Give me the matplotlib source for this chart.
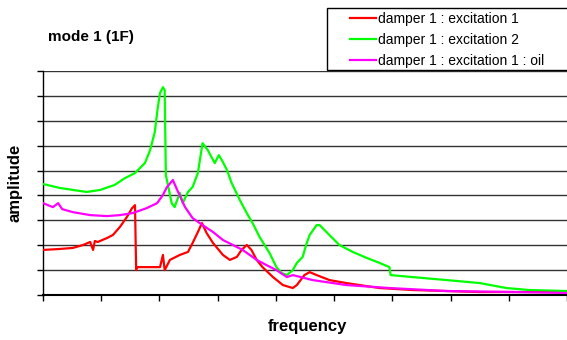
import matplotlib
matplotlib.use("Agg")
import matplotlib.pyplot as plt
from matplotlib.patches import Rectangle

plt.rcParams['font.family'] = ['Liberation Sans', 'DejaVu Sans']

# values (frequency / amplitude in grid units)
freq_exc1 = [0.00, 0.29, 0.51, 0.69, 0.81, 0.86, 0.89, 0.94, 1.10, 1.20, 1.32, 1.44,
             1.53, 1.58, 1.60, 1.61, 2.01, 2.06, 2.09, 2.18, 2.35, 2.49, 2.57, 2.66,
             2.73, 2.81, 2.92, 3.09, 3.21, 3.33, 3.41, 3.50, 3.58, 3.67, 3.77, 3.95,
             4.12, 4.29, 4.36, 4.49, 4.58, 4.70, 4.92, 5.21, 5.78, 6.35, 7.50, 8.99]
amp_exc1 = [1.81, 1.85, 1.89, 2.01, 2.13, 1.81, 2.17, 2.13, 2.29, 2.41, 2.73, 3.13,
            3.49, 3.61, 1.00, 1.12, 1.12, 1.61, 1.00, 1.41, 1.61, 1.73, 2.09, 2.53,
            2.89, 2.49, 2.09, 1.61, 1.41, 1.53, 1.81, 2.01, 1.81, 1.41, 1.12, 0.72,
            0.40, 0.28, 0.40, 0.80, 0.92, 0.80, 0.60, 0.48, 0.28, 0.20, 0.12, 0.12]

freq_exc2 = [0.00, 0.29, 0.75, 0.98, 1.23, 1.41, 1.58, 1.75, 1.84, 1.92, 1.97, 2.01,
             2.06, 2.09, 2.11, 2.21, 2.26, 2.35, 2.40, 2.49, 2.57, 2.66, 2.74, 2.83,
             2.95, 3.02, 3.09, 3.16, 3.24, 3.38, 3.50, 3.60, 3.72, 3.89, 4.01, 4.10,
             4.19, 4.29, 4.36, 4.46, 4.53, 4.58, 4.70, 4.75, 4.92, 5.09, 5.32, 5.56,
             5.78, 5.95, 5.97, 6.35, 6.93, 7.50, 7.96, 8.35, 8.99]
amp_exc2 = [4.46, 4.30, 4.14, 4.22, 4.42, 4.70, 4.90, 5.30, 5.82, 6.55, 7.51, 8.11,
            8.35, 8.23, 4.82, 3.69, 3.53, 4.10, 3.69, 4.14, 4.34, 4.90, 6.10, 5.82,
            5.30, 5.62, 5.34, 5.02, 4.50, 3.82, 3.29, 2.89, 2.33, 1.69, 1.12, 0.88,
            0.80, 1.00, 1.29, 1.53, 2.09, 2.41, 2.81, 2.81, 2.41, 2.01, 1.73, 1.49,
            1.29, 1.12, 0.80, 0.72, 0.60, 0.48, 0.28, 0.20, 0.16]

freq_oil = [0.00, 0.17, 0.26, 0.33, 0.51, 0.81, 1.10, 1.32, 1.54, 1.78, 1.96, 2.06,
            2.13, 2.23, 2.32, 2.44, 2.57, 2.74, 2.92, 3.09, 3.26, 3.43, 3.55, 3.67,
            3.84, 4.01, 4.19, 4.29, 4.63, 5.21, 5.95, 6.93, 8.06, 8.99]
amp_oil = [3.69, 3.53, 3.69, 3.45, 3.33, 3.21, 3.17, 3.21, 3.29, 3.49, 3.69, 4.02,
           4.34, 4.62, 4.14, 3.53, 3.09, 2.81, 2.53, 2.21, 2.01, 1.81, 1.61, 1.41,
           1.20, 1.00, 0.72, 0.80, 0.60, 0.40, 0.28, 0.16, 0.12, 0.08]

labels = ["damper 1 : excitation 1", "damper 1 : excitation 2",
          "damper 1 : excitation 1 : oil"]
colors = ["#ff0000", "#00ff00", "#ff00ff"]

fig = plt.figure(figsize=(5.67, 3.4), dpi=100)
ax = fig.add_axes([43 / 567, 1 - 295 / 340, 1 - 43 / 567, 224 / 340])

for y in range(1, 10):
    ax.axhline(y, color="#333333", lw=1.0, zorder=1)

lines = []
for fx, ay, c in zip([freq_exc1, freq_exc2, freq_oil],
                     [amp_exc1, amp_exc2, amp_oil], colors):
    ln, = ax.plot(fx, ay, color=c, lw=1.6, zorder=3)
    lines.append(ln)

ax.set_xlim(0, 9)
ax.set_ylim(0, 9)
ax.set_xticks(range(10))
ax.set_yticks(range(10))
ax.tick_params(direction="out", length=4, width=1, labelbottom=False, labelleft=False)
ax.spines["top"].set_visible(False)
ax.spines["right"].set_visible(False)
ax.spines["left"].set_linewidth(1.0)
ax.spines["bottom"].set_linewidth(1.5)

fig.text(48 / 567, 1 - 37 / 340, "mode 1 (1F)", fontsize=11, fontweight="bold", va="center")
fig.text(15 / 567, 1 - 183 / 340, "amplitude", fontsize=12, fontweight="bold",
         rotation=90, va="center", ha="center")
fig.text(307 / 567, 1 - 327 / 340, "frequency", fontsize=12, fontweight="bold",
         va="center", ha="center")

fig.patches.append(Rectangle((327 / 567, 1 - 70 / 340), 0.5, 62 / 340,
                             transform=fig.transFigure, fill=True, facecolor="white",
                             edgecolor="black", lw=1.0, zorder=4))
fig.legend(lines, labels, loc="upper left", bbox_to_anchor=(350 / 567, 1 - 12 / 340),
           frameon=False, fontsize=10, borderpad=0, borderaxespad=0,
           handlelength=1.9, handletextpad=0.1, labelspacing=0.5)

fig.savefig("out.png", dpi=100)
